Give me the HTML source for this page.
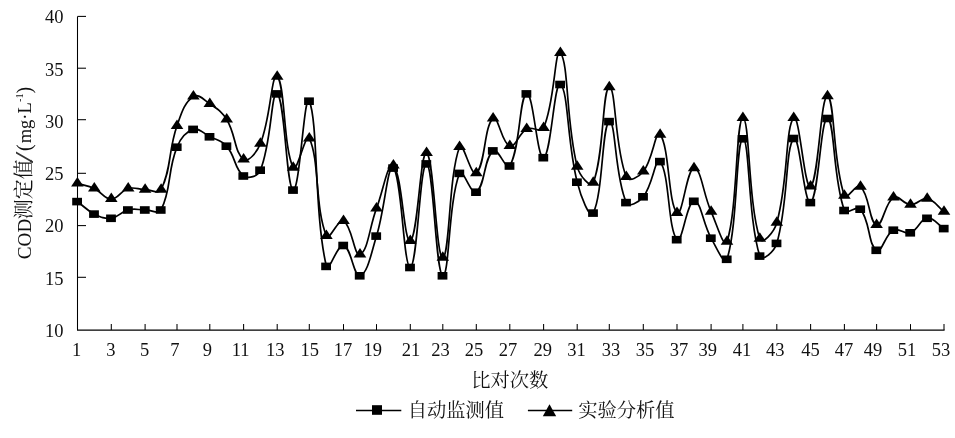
<!DOCTYPE html>
<html lang="zh"><head><meta charset="utf-8"><title>COD</title>
<style>
html,body{margin:0;padding:0;background:#fff;}
body{width:955px;height:438px;overflow:hidden;}
svg{display:block;font-family:"Liberation Serif","Noto Serif CJK SC",serif;fill:#111;}
.ln path{fill:none;stroke:#000;stroke-width:1.7;stroke-linejoin:round;}
.ax path{fill:none;stroke:#000;stroke-width:1.05;}
.mk{fill:#000;}
.num{font-size:18.5px;}
.cjk{font-size:19.3px;}
</style></head><body>
<svg width="955" height="438" viewBox="0 0 955 438">
<g class="ax">
<path d="M77.5 16.4 V330.1 H944.6"/>
<path d="M77.5 277.3 h8.5"/>
<path d="M77.5 225.6 h8.5"/>
<path d="M77.5 173.3 h8.5"/>
<path d="M77.5 119.7 h8.5"/>
<path d="M77.5 68.2 h8.5"/>
<path d="M77.5 16.4 h8.5"/>
<path d="M111.3 330.1 v-6"/>
<path d="M145.1 330.1 v-6"/>
<path d="M177.0 330.1 v-6"/>
<path d="M209.8 330.1 v-6"/>
<path d="M243.6 330.1 v-6"/>
<path d="M277.2 330.1 v-6"/>
<path d="M309.3 330.1 v-6"/>
<path d="M343.5 330.1 v-6"/>
<path d="M376.5 330.1 v-6"/>
<path d="M410.3 330.1 v-6"/>
<path d="M442.8 330.1 v-6"/>
<path d="M476.3 330.1 v-6"/>
<path d="M509.8 330.1 v-6"/>
<path d="M543.6 330.1 v-6"/>
<path d="M577.2 330.1 v-6"/>
<path d="M609.3 330.1 v-6"/>
<path d="M643.3 330.1 v-6"/>
<path d="M677.0 330.1 v-6"/>
<path d="M711.1 330.1 v-6"/>
<path d="M742.9 330.1 v-6"/>
<path d="M776.8 330.1 v-6"/>
<path d="M810.6 330.1 v-6"/>
<path d="M844.4 330.1 v-6"/>
<path d="M876.6 330.1 v-6"/>
<path d="M910.5 330.1 v-6"/>
<path d="M944.0 330.1 v-6"/>
</g>
<g class="ln">
<path d="M77.4 201.5C84.5 206.8 86.6 210.2 94.3 214.0C100.8 217.2 104.5 219.1 111.3 218.2C118.7 217.3 120.7 211.7 128.2 209.9C134.9 208.2 138.0 209.9 145.1 209.9C151.8 209.9 158.4 215.1 161.1 209.9C171.8 188.7 167.1 171.7 177.0 147.1C180.7 137.9 185.5 131.9 193.4 129.3C199.3 127.5 203.1 133.3 209.8 136.7C217.1 140.3 221.6 140.1 226.7 146.1C235.8 156.6 234.3 169.2 243.6 175.9C248.4 179.3 257.8 176.5 260.4 170.1C271.9 142.0 271.1 90.1 277.2 93.8C284.9 98.4 286.3 188.4 293.2 190.0C299.7 191.5 304.4 89.8 309.3 101.1C318.3 121.9 314.0 214.2 326.4 266.3C328.4 274.8 337.3 243.7 343.5 245.4C351.4 247.6 353.8 277.5 360.0 275.7C367.7 273.5 371.2 253.2 376.5 236.0C385.2 208.0 387.6 162.6 393.4 168.0C401.8 175.8 403.5 268.2 410.3 267.4C417.4 266.5 420.0 162.2 426.6 163.8C433.6 165.7 435.6 273.7 442.8 275.7C449.4 277.6 448.2 201.5 459.6 173.3C462.3 166.4 471.2 195.5 476.3 192.1C485.3 186.0 483.7 158.1 493.1 150.8C497.8 147.1 506.5 171.5 509.8 165.9C520.6 147.6 519.2 95.6 526.7 93.8C533.4 92.1 537.0 159.4 543.6 157.6C551.1 155.5 554.3 79.9 560.4 84.4C568.4 90.2 567.0 142.1 577.2 182.1C580.8 196.2 589.6 219.9 593.2 213.0C603.1 194.5 602.0 123.8 609.3 121.5C615.8 119.4 614.6 176.6 626.3 202.5C628.8 208.2 638.8 202.1 643.3 196.7C653.0 184.9 655.5 155.6 660.1 161.5C669.7 173.6 667.7 228.6 677.0 239.6C681.9 245.3 686.8 201.5 694.0 201.2C701.1 200.9 702.7 223.3 711.1 238.1C716.6 247.7 724.6 266.7 727.0 259.2C738.0 224.9 735.9 139.4 742.9 138.7C749.7 138.1 747.8 218.7 759.8 256.0C762.0 262.6 774.4 251.5 776.8 243.3C788.7 202.1 785.0 149.0 793.7 138.4C799.2 131.9 804.4 206.2 810.6 202.5C818.6 197.8 820.7 116.8 827.5 118.4C834.9 120.1 832.6 177.9 844.4 210.4C846.4 216.0 856.9 204.6 860.5 209.1C870.4 221.4 867.9 244.7 876.6 250.2C881.8 253.5 884.9 234.6 893.5 230.1C899.2 227.2 904.3 234.8 910.5 232.7C918.5 229.8 919.8 219.2 927.2 218.2C933.9 217.4 937.0 224.2 944.0 228.5"/>
<path d="M77.4 183.3C84.5 185.5 87.6 185.4 94.3 188.5C101.9 192.0 104.2 199.0 111.3 199.0C118.4 199.0 120.5 190.7 128.2 188.5C134.7 186.7 138.0 189.4 145.1 189.6C151.8 189.8 158.4 194.8 161.1 189.6C171.8 168.0 168.0 151.7 177.0 125.8C181.6 112.6 184.4 102.5 193.4 96.5C198.2 93.3 203.7 99.6 209.8 103.8C217.7 109.3 221.8 111.4 226.7 119.5C236.0 134.7 234.4 152.7 243.6 159.3C248.5 162.8 256.9 152.3 260.4 143.6C271.0 117.6 271.3 72.3 277.2 76.7C285.1 82.4 283.3 148.6 293.2 167.6C296.8 174.5 305.8 131.1 309.3 138.4C319.7 159.8 314.7 207.6 326.4 235.8C329.1 242.3 338.2 218.0 343.5 221.0C352.3 225.8 354.0 256.7 360.0 254.4C367.9 251.4 369.3 227.6 376.5 208.4C383.3 190.3 388.1 160.5 393.4 165.5C402.3 174.1 403.8 243.3 410.3 240.8C417.8 238.0 420.3 149.8 426.6 153.0C434.0 156.8 436.1 258.8 442.8 257.6C449.9 256.3 448.5 174.8 459.6 147.0C462.6 139.3 471.3 177.4 476.3 173.2C485.4 165.4 484.0 125.8 493.1 118.5C498.1 114.4 501.7 143.5 509.8 146.0C515.8 147.9 518.4 133.4 526.7 128.9C532.6 125.8 541.0 133.7 543.6 127.9C555.2 101.8 554.7 46.5 560.4 53.0C568.9 62.8 565.7 121.1 577.2 166.6C579.5 175.6 590.7 189.0 593.2 182.7C604.2 155.7 602.2 88.3 609.3 87.1C616.0 86.0 614.4 147.4 626.3 177.0C628.6 182.8 639.0 177.0 643.3 171.5C653.2 159.1 655.4 128.8 660.1 134.6C669.5 146.1 668.1 204.0 677.0 212.8C682.3 218.1 686.8 168.4 694.0 168.2C701.1 167.9 703.1 193.7 711.1 211.6C716.9 224.5 724.1 250.0 727.0 241.6C737.5 210.7 735.9 118.6 742.9 118.0C749.7 117.4 747.9 201.8 759.8 238.7C762.1 245.8 774.2 231.9 776.8 222.7C788.5 181.2 785.2 127.1 793.7 118.0C799.4 111.9 804.4 190.4 810.6 186.5C818.6 181.3 820.7 94.3 827.5 96.1C834.9 98.1 832.7 163.4 844.4 195.6C846.5 201.4 856.3 182.8 860.5 186.6C869.9 195.1 868.8 222.3 876.6 224.9C882.7 227.0 884.5 203.0 893.5 197.5C898.7 194.4 903.3 204.4 910.5 204.7C917.5 204.9 920.8 197.4 927.2 198.7C934.9 200.3 937.0 206.2 944.0 211.6"/>
</g>
<g class="mk">
<rect x="72.2" y="197.8" width="9.8" height="7.6"/>
<rect x="89.1" y="210.3" width="9.8" height="7.6"/>
<rect x="106.1" y="214.5" width="9.8" height="7.6"/>
<rect x="123.0" y="206.2" width="9.8" height="7.6"/>
<rect x="139.9" y="206.2" width="9.8" height="7.6"/>
<rect x="155.8" y="206.2" width="9.8" height="7.6"/>
<rect x="171.8" y="143.4" width="9.8" height="7.6"/>
<rect x="188.2" y="125.6" width="9.8" height="7.6"/>
<rect x="204.6" y="133.0" width="9.8" height="7.6"/>
<rect x="221.5" y="142.4" width="9.8" height="7.6"/>
<rect x="238.4" y="172.2" width="9.8" height="7.6"/>
<rect x="255.2" y="166.4" width="9.8" height="7.6"/>
<rect x="272.0" y="90.1" width="9.8" height="7.6"/>
<rect x="288.1" y="186.3" width="9.8" height="7.6"/>
<rect x="304.1" y="97.4" width="9.8" height="7.6"/>
<rect x="321.2" y="262.6" width="9.8" height="7.6"/>
<rect x="338.3" y="241.7" width="9.8" height="7.6"/>
<rect x="354.8" y="272.0" width="9.8" height="7.6"/>
<rect x="371.3" y="232.3" width="9.8" height="7.6"/>
<rect x="388.2" y="164.3" width="9.8" height="7.6"/>
<rect x="405.1" y="263.7" width="9.8" height="7.6"/>
<rect x="421.4" y="160.1" width="9.8" height="7.6"/>
<rect x="437.6" y="272.0" width="9.8" height="7.6"/>
<rect x="454.4" y="169.6" width="9.8" height="7.6"/>
<rect x="471.1" y="188.4" width="9.8" height="7.6"/>
<rect x="487.9" y="147.1" width="9.8" height="7.6"/>
<rect x="504.6" y="162.2" width="9.8" height="7.6"/>
<rect x="521.5" y="90.1" width="9.8" height="7.6"/>
<rect x="538.4" y="153.9" width="9.8" height="7.6"/>
<rect x="555.2" y="80.7" width="9.8" height="7.6"/>
<rect x="572.0" y="178.4" width="9.8" height="7.6"/>
<rect x="588.1" y="209.3" width="9.8" height="7.6"/>
<rect x="604.1" y="117.8" width="9.8" height="7.6"/>
<rect x="621.1" y="198.8" width="9.8" height="7.6"/>
<rect x="638.1" y="193.0" width="9.8" height="7.6"/>
<rect x="655.0" y="157.8" width="9.8" height="7.6"/>
<rect x="671.8" y="235.9" width="9.8" height="7.6"/>
<rect x="688.9" y="197.5" width="9.8" height="7.6"/>
<rect x="705.9" y="234.4" width="9.8" height="7.6"/>
<rect x="721.8" y="255.5" width="9.8" height="7.6"/>
<rect x="737.7" y="135.0" width="9.8" height="7.6"/>
<rect x="754.6" y="252.3" width="9.8" height="7.6"/>
<rect x="771.6" y="239.6" width="9.8" height="7.6"/>
<rect x="788.5" y="134.7" width="9.8" height="7.6"/>
<rect x="805.4" y="198.8" width="9.8" height="7.6"/>
<rect x="822.3" y="114.7" width="9.8" height="7.6"/>
<rect x="839.2" y="206.7" width="9.8" height="7.6"/>
<rect x="855.3" y="205.4" width="9.8" height="7.6"/>
<rect x="871.4" y="246.5" width="9.8" height="7.6"/>
<rect x="888.4" y="226.4" width="9.8" height="7.6"/>
<rect x="905.3" y="229.0" width="9.8" height="7.6"/>
<rect x="922.1" y="214.5" width="9.8" height="7.6"/>
<rect x="938.8" y="224.8" width="9.8" height="7.6"/>
<path d="M77.4 176.9 L83.7 186.4 L71.1 186.4 Z"/>
<path d="M94.3 182.1 L100.6 191.6 L88.0 191.6 Z"/>
<path d="M111.3 192.6 L117.6 202.1 L105.0 202.1 Z"/>
<path d="M128.2 182.1 L134.5 191.6 L121.9 191.6 Z"/>
<path d="M145.1 183.2 L151.4 192.7 L138.8 192.7 Z"/>
<path d="M161.1 183.2 L167.4 192.7 L154.8 192.7 Z"/>
<path d="M177.0 119.4 L183.3 128.9 L170.7 128.9 Z"/>
<path d="M193.4 90.1 L199.7 99.6 L187.1 99.6 Z"/>
<path d="M209.8 97.4 L216.1 106.9 L203.5 106.9 Z"/>
<path d="M226.7 113.1 L233.0 122.6 L220.4 122.6 Z"/>
<path d="M243.6 152.9 L249.9 162.4 L237.3 162.4 Z"/>
<path d="M260.4 137.2 L266.7 146.7 L254.1 146.7 Z"/>
<path d="M277.2 70.3 L283.5 79.8 L270.9 79.8 Z"/>
<path d="M293.2 161.2 L299.6 170.7 L286.9 170.7 Z"/>
<path d="M309.3 132.0 L315.6 141.5 L303.0 141.5 Z"/>
<path d="M326.4 229.4 L332.7 238.9 L320.1 238.9 Z"/>
<path d="M343.5 214.6 L349.8 224.1 L337.2 224.1 Z"/>
<path d="M360.0 248.0 L366.3 257.5 L353.7 257.5 Z"/>
<path d="M376.5 202.0 L382.8 211.5 L370.2 211.5 Z"/>
<path d="M393.4 159.1 L399.7 168.6 L387.1 168.6 Z"/>
<path d="M410.3 234.4 L416.6 243.9 L404.0 243.9 Z"/>
<path d="M426.6 146.6 L432.9 156.1 L420.2 156.1 Z"/>
<path d="M442.8 251.2 L449.1 260.7 L436.5 260.7 Z"/>
<path d="M459.6 140.6 L465.9 150.1 L453.2 150.1 Z"/>
<path d="M476.3 166.8 L482.6 176.3 L470.0 176.3 Z"/>
<path d="M493.1 112.1 L499.4 121.6 L486.8 121.6 Z"/>
<path d="M509.8 139.6 L516.1 149.1 L503.5 149.1 Z"/>
<path d="M526.7 122.5 L533.0 132.0 L520.4 132.0 Z"/>
<path d="M543.6 121.5 L549.9 131.0 L537.3 131.0 Z"/>
<path d="M560.4 46.6 L566.7 56.1 L554.1 56.1 Z"/>
<path d="M577.2 160.2 L583.5 169.7 L570.9 169.7 Z"/>
<path d="M593.2 176.3 L599.5 185.8 L587.0 185.8 Z"/>
<path d="M609.3 80.7 L615.6 90.2 L603.0 90.2 Z"/>
<path d="M626.3 170.6 L632.6 180.1 L620.0 180.1 Z"/>
<path d="M643.3 165.1 L649.6 174.6 L637.0 174.6 Z"/>
<path d="M660.1 128.2 L666.4 137.7 L653.9 137.7 Z"/>
<path d="M677.0 206.4 L683.3 215.9 L670.7 215.9 Z"/>
<path d="M694.0 161.8 L700.3 171.3 L687.8 171.3 Z"/>
<path d="M711.1 205.2 L717.4 214.7 L704.8 214.7 Z"/>
<path d="M727.0 235.2 L733.3 244.7 L720.7 244.7 Z"/>
<path d="M742.9 111.6 L749.2 121.1 L736.6 121.1 Z"/>
<path d="M759.8 232.3 L766.1 241.8 L753.5 241.8 Z"/>
<path d="M776.8 216.3 L783.1 225.8 L770.5 225.8 Z"/>
<path d="M793.7 111.6 L800.0 121.1 L787.4 121.1 Z"/>
<path d="M810.6 180.1 L816.9 189.6 L804.3 189.6 Z"/>
<path d="M827.5 89.7 L833.8 99.2 L821.2 99.2 Z"/>
<path d="M844.4 189.2 L850.7 198.7 L838.1 198.7 Z"/>
<path d="M860.5 180.2 L866.8 189.7 L854.2 189.7 Z"/>
<path d="M876.6 218.5 L882.9 228.0 L870.3 228.0 Z"/>
<path d="M893.5 191.1 L899.8 200.6 L887.2 200.6 Z"/>
<path d="M910.5 198.3 L916.8 207.8 L904.2 207.8 Z"/>
<path d="M927.2 192.3 L933.5 201.8 L921.0 201.8 Z"/>
<path d="M944.0 205.2 L950.3 214.7 L937.7 214.7 Z"/>
</g>
<g class="num">
<text x="63.4" y="337.0" text-anchor="end">10</text>
<text x="63.4" y="284.7" text-anchor="end">15</text>
<text x="63.4" y="232.4" text-anchor="end">20</text>
<text x="63.4" y="180.2" text-anchor="end">25</text>
<text x="63.4" y="127.9" text-anchor="end">30</text>
<text x="63.4" y="75.6" text-anchor="end">35</text>
<text x="63.4" y="23.3" text-anchor="end">40</text>
<text x="76.5" y="355.7" text-anchor="middle">1</text>
<text x="110.9" y="355.7" text-anchor="middle">3</text>
<text x="144.5" y="355.7" text-anchor="middle">5</text>
<text x="174.9" y="355.7" text-anchor="middle">7</text>
<text x="207.4" y="355.7" text-anchor="middle">9</text>
<text x="240.6" y="355.7" text-anchor="middle">11</text>
<text x="275.3" y="355.7" text-anchor="middle">13</text>
<text x="309.7" y="355.7" text-anchor="middle">15</text>
<text x="343.1" y="355.7" text-anchor="middle">17</text>
<text x="372.7" y="355.7" text-anchor="middle">19</text>
<text x="411.0" y="355.7" text-anchor="middle">21</text>
<text x="440.5" y="355.7" text-anchor="middle">23</text>
<text x="474.1" y="355.7" text-anchor="middle">25</text>
<text x="508.1" y="355.7" text-anchor="middle">27</text>
<text x="542.7" y="355.7" text-anchor="middle">29</text>
<text x="576.5" y="355.7" text-anchor="middle">31</text>
<text x="610.9" y="355.7" text-anchor="middle">33</text>
<text x="644.9" y="355.7" text-anchor="middle">35</text>
<text x="678.9" y="355.7" text-anchor="middle">37</text>
<text x="707.8" y="355.7" text-anchor="middle">39</text>
<text x="742.0" y="355.7" text-anchor="middle">41</text>
<text x="775.3" y="355.7" text-anchor="middle">43</text>
<text x="810.5" y="355.7" text-anchor="middle">45</text>
<text x="844.1" y="355.7" text-anchor="middle">47</text>
<text x="873.1" y="355.7" text-anchor="middle">49</text>
<text x="907.0" y="355.7" text-anchor="middle">51</text>
<text x="940.9" y="355.7" text-anchor="middle">53</text>
</g>
<text class="cjk" x="509.7" y="386.6" text-anchor="middle">比对次数</text>
<g transform="translate(30.6 264.9) rotate(-90)" style="font-size:20px">
<text x="5.7" y="0" style="font-size:19.2px">COD</text>
<text x="45.6" y="0">测定值</text>
<text transform="translate(101.6 2.4) scale(1.62 1)" x="0" y="0" style="font-size:26px;fill:#333">/</text>
<text x="113.9" y="0">(</text>
<text x="121.6" y="0" style="font-size:18.5px">mg·L</text>
<text x="162.8" y="-7.3" style="font-size:10.5px">-1</text>
<text x="171.3" y="0">)</text>
</g>
<g class="ax"><path d="M356 410.5 H401.3" style="stroke-width:1.6"/><path d="M527.9 410.5 H572.2" style="stroke-width:1.6"/></g>
<rect class="mk" x="372" y="405.2" width="10" height="9.6"/>
<path class="mk" d="M549.5 404.2 L556.2 416.2 L542.8 416.2 Z"/>
<text class="cjk" x="407.7" y="417.1">自动监测值</text>
<text class="cjk" x="578.2" y="417.1">实验分析值</text>
</svg>
</body></html>
